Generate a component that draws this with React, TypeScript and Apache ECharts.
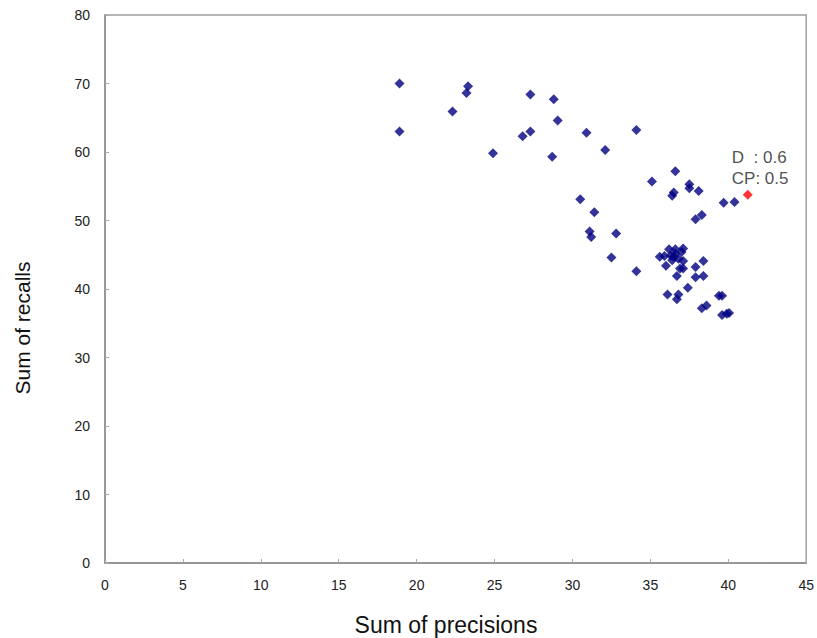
import React, { useEffect, useRef } from "react";
import * as echarts from "echarts";

const xTicks = [0, 5, 10, 15, 20, 25, 30, 35, 40, 45];
const yTicks = [0, 10, 20, 30, 40, 50, 60, 70, 80];

const precisions = [
  18.9, 18.9, 22.3, 23.3, 23.2, 24.9, 26.8, 27.3, 27.3, 28.8, 29.05, 28.7,
  30.9, 32.1, 34.1, 30.5, 31.4, 31.1, 31.2, 32.8, 32.5, 34.1, 35.1, 36.6,
  36.5, 36.4, 37.5, 37.5, 38.1, 38.3, 37.9, 39.7, 40.4,
  36.2, 36.6, 37.1, 35.6, 35.9, 36.3, 36.5, 36.8, 37.1, 36.4, 36.0, 36.9,
  37.1, 38.4, 37.9, 36.7, 37.9, 38.4, 37.4, 36.1, 36.8, 36.7, 39.4, 39.6,
  38.6, 38.3, 39.6, 39.9, 40.05, 36.6, 37.0
];
const recalls = [
  70.0, 63.0, 65.9, 69.6, 68.6, 59.8, 62.3, 68.4, 63.0, 67.7, 64.6, 59.3,
  62.8, 60.3, 63.2, 53.1, 51.2, 48.4, 47.6, 48.1, 44.6, 42.6, 55.7, 57.2,
  54.1, 53.6, 55.3, 54.7, 54.3, 50.8, 50.2, 52.6, 52.7,
  45.8, 45.8, 45.9, 44.7, 44.8, 44.9, 44.7, 44.4, 44.1, 44.2, 43.4, 43.0,
  43.0, 44.1, 43.2, 41.9, 41.7, 41.9, 40.2, 39.2, 39.2, 38.5, 39.0, 39.0,
  37.6, 37.2, 36.2, 36.4, 36.5, 45.2, 45.4
];
const bestPoint = [41.25, 53.75];
const bestLabel = "D  : 0.6\nCP: 0.5";
const xName = "Sum of precisions";
const yName = "Sum of recalls";

export default function App() {
  const ref = useRef<HTMLDivElement>(null);
  useEffect(() => {
    if (!ref.current) return;
    const chart = echarts.init(ref.current, null, { renderer: "svg" });
    const font = "'Liberation Sans', Arial, sans-serif";
    const axisCommon = {
      axisLine: { show: true, lineStyle: { color: "#8c8c8c", width: 1.5 } },
      axisTick: { show: true, inside: true, length: 4, lineStyle: { color: "#aaaaaa" } },
      splitLine: { show: false },
      axisLabel: { color: "#222", fontSize: 14, fontFamily: font },
    };
    chart.setOption({
      animation: false,
      backgroundColor: "#ffffff",
      grid: {
        left: 105, top: 15, right: 10, bottom: 75,
        show: true, borderColor: "#a0a0a0", borderWidth: 1.5, backgroundColor: "transparent",
      },
      xAxis: {
        type: "value", min: 0, max: 45, interval: 5,
        ...axisCommon,
        axisLabel: { ...axisCommon.axisLabel, margin: 15 },
      },
      yAxis: {
        type: "value", min: 0, max: 80, interval: 10,
        ...axisCommon,
        axisLabel: { ...axisCommon.axisLabel, margin: 15 },
      },
      graphic: [
        {
          type: "text", x: 446, y: 625,
          style: { text: xName, fill: "#111", font: `23px ${font}`, align: "center", verticalAlign: "middle" },
        },
        {
          type: "text", x: 22, y: 328, rotation: Math.PI / 2,
          style: { text: yName, fill: "#111", font: `21px ${font}`, align: "center", verticalAlign: "middle" },
        },
      ],
      series: [
        {
          type: "scatter",
          symbol: "diamond",
          symbolSize: 10,
          itemStyle: { color: "#000080" },
          data: precisions.map((p, i) => [p, recalls[i]]),
        },
        {
          type: "scatter",
          symbol: "diamond",
          symbolSize: 10,
          itemStyle: { color: "#ff0000" },
          data: [bestPoint],
          label: {
            show: true,
            formatter: bestLabel,
            position: [-11, -43],
            align: "left",
            color: "#222",
            fontSize: 17,
            lineHeight: 21,
            fontFamily: font,
          },
        },
      ],
    });
    return () => chart.dispose();
  }, []);
  return <div ref={ref} style={{ width: 817, height: 638, position: "absolute", left: 0, top: 0 }} />;
}
